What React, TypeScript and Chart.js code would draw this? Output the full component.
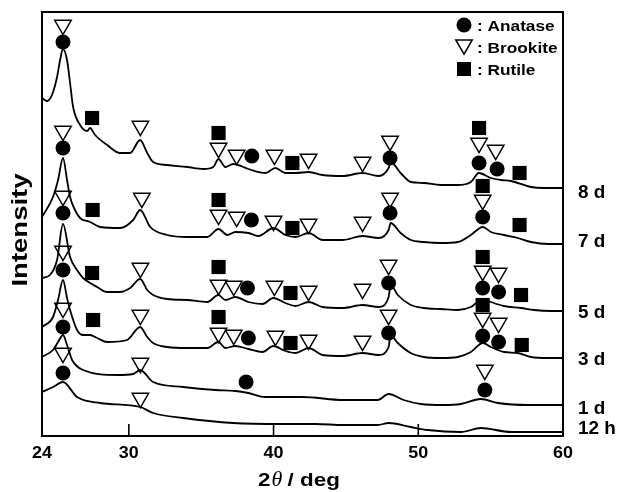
import React, { useEffect, useRef } from 'react';
import { Chart, registerables } from 'chart.js';

Chart.register(...registerables);

// ---- axis / labels ----
const xTicks = [24, 30, 40, 50, 60];
const sampleLabels = ['8 d', '7 d', '5 d', '3 d', '1 d', '12 h'];
const labelLevels = [245, 196, 125, 78, 29, 9];
const legendNames = ['Anatase', 'Brookite', 'Rutile'];

// ---- XRD patterns: [2theta, intensity (a.u., offset)] ----
const curve8d = [
  [24.0, 338], [24.35, 335], [24.69, 341], [25.04, 359], [25.25, 376], [25.45, 387], [25.73, 376],
  [25.94, 353], [26.15, 329], [26.63, 311], [27.12, 305], [27.32, 308], [27.67, 301], [28.5, 291],
  [29.4, 283], [30.09, 283], [30.78, 296], [31.27, 283], [31.68, 274], [32.65, 271], [34.04, 269],
  [35.15, 267], [35.84, 269], [36.19, 277], [36.67, 269], [37.22, 272], [38.26, 267], [39.44, 263],
  [40.13, 268], [40.82, 263], [41.52, 263], [42.42, 264], [43.39, 261], [44.77, 260], [46.15, 263],
  [47.26, 260], [47.95, 268], [48.09, 274], [48.78, 263], [49.48, 254], [50.38, 253], [51.55, 251],
  [52.73, 251], [53.63, 254], [54.19, 263], [55.02, 258], [55.71, 256], [56.4, 255], [57.79, 249],
  [58.69, 248], [60.0, 248],
];
const curve7d = [
  [24.0, 219], [24.76, 239], [25.11, 256], [25.45, 278], [25.73, 256], [25.94, 239], [26.28, 226],
  [26.63, 218], [27.32, 214], [28.02, 209], [29.4, 208], [30.3, 216], [30.78, 226], [31.48, 209],
  [32.65, 201], [34.04, 199], [35.42, 199], [36.19, 207], [36.81, 201], [37.36, 204], [38.26, 203],
  [38.95, 200], [40.0, 208], [40.82, 201], [41.52, 199], [42.42, 203], [43.39, 196], [44.77, 196],
  [46.15, 200], [47.26, 198], [47.95, 206], [48.09, 213], [48.78, 203], [49.48, 196], [50.38, 194],
  [51.55, 193], [52.73, 194], [53.63, 201], [54.46, 209], [55.02, 204], [55.92, 201], [56.88, 198],
  [57.79, 194], [58.96, 192], [60.0, 192],
];
const curve5d = [
  [24.0, 158], [24.55, 161], [25.04, 176], [25.45, 212], [25.94, 179], [26.42, 166], [26.84, 158],
  [27.32, 153], [27.81, 149], [28.5, 144], [29.4, 144], [30.09, 148], [30.78, 157], [31.27, 146],
  [31.68, 141], [32.65, 137], [34.04, 136], [35.42, 134], [36.19, 141], [36.67, 136], [37.36, 139],
  [38.26, 134], [39.23, 132], [39.99, 138], [40.82, 133], [41.52, 130], [42.42, 134], [43.39, 129],
  [44.77, 128], [46.15, 131], [47.26, 129], [47.95, 139], [48.09, 151], [48.58, 141], [49.48, 131],
  [50.38, 128], [51.55, 127], [52.73, 126], [53.63, 129], [54.46, 137], [55.02, 134], [55.92, 130],
  [57.09, 128], [57.99, 126], [59.17, 125], [60.0, 125],
];
const curve3d = [
  [24.0, 109], [24.76, 119], [25.11, 136], [25.45, 156], [25.73, 138], [25.94, 126], [26.42, 106],
  [26.84, 101], [27.32, 101], [27.81, 98], [28.5, 94], [29.88, 96], [30.78, 109], [31.27, 99],
  [31.68, 93], [32.65, 89], [34.04, 88], [35.42, 88], [36.19, 94], [36.67, 88], [37.36, 90],
  [38.26, 87], [39.23, 84], [39.99, 90], [40.82, 85], [41.52, 83], [42.42, 88], [43.39, 81],
  [44.77, 80], [46.15, 83], [47.26, 81], [47.95, 89], [48.09, 101], [48.58, 93], [49.48, 83],
  [50.38, 79], [51.55, 78], [52.73, 79], [53.63, 84], [54.46, 93], [55.02, 89], [55.92, 84],
  [56.88, 83], [57.79, 79], [58.96, 78], [60.0, 78],
];
const curve1d = [
  [24.0, 79], [24.76, 86], [25.11, 94], [25.45, 101], [25.73, 91], [26.08, 76], [26.84, 66],
  [29.19, 61], [30.3, 62], [30.78, 66], [31.68, 54], [33.76, 49], [35.98, 46], [37.36, 45],
  [38.26, 43], [39.44, 39], [42.0, 39], [44.84, 36], [47.19, 36], [47.95, 42], [48.99, 36],
  [50.17, 32], [51.76, 31], [52.94, 32], [54.32, 37], [55.5, 33], [57.58, 31], [60.0, 31],
];
const curve12h = [
  [24.0, 44], [24.76, 49], [25.45, 54], [26.42, 39], [28.02, 33], [30.78, 29], [31.68, 23],
  [33.76, 18], [37.22, 13], [40.62, 12], [42.9, 12], [44.84, 11], [47.19, 11], [47.95, 13],
  [49.48, 9], [50.66, 6], [52.94, 4], [54.32, 8], [56.4, 4], [60.0, 4],
];
const curves = [curve8d, curve7d, curve5d, curve3d, curve1d, curve12h];

// ---- phase markers: [2theta, level] ----
const anatase8d = [[25.45, 394], [38.5, 280], [48.05, 278], [54.2, 273], [55.45, 267]];
const anatase7d = [[25.45, 288], [38.47, 216], [48.05, 223], [54.45, 219]];
const anatase5d = [[25.45, 223], [38.2, 148], [47.95, 153], [54.45, 148], [55.55, 144]];
const anatase3d = [[25.45, 166], [38.26, 98], [47.95, 103], [54.45, 100], [55.55, 94]];
const anatase1d = [[25.45, 109], [38.1, 54], [54.6, 46]];
const anatase12h = [[25.45, 63]];

const brookite8d = [[25.45, 411], [30.8, 310], [36.2, 288], [37.45, 281], [40.06, 281], [42.42, 277], [46.15, 274], [48.05, 295], [54.2, 293], [55.35, 286]];
const brookite7d = [[25.45, 305], [30.9, 238], [36.2, 221], [37.45, 219], [40.0, 215], [42.42, 212], [46.15, 214], [48.05, 238], [54.45, 236]];
const brookite5d = [[25.45, 240], [30.8, 168], [36.2, 151], [37.25, 150], [40.06, 150], [42.42, 145], [46.15, 147], [47.95, 171], [54.45, 165], [55.55, 163]];
const brookite3d = [[25.45, 185], [30.8, 121], [36.2, 103], [37.25, 101], [40.13, 100], [42.42, 96], [46.15, 95], [47.95, 121], [54.45, 118], [55.55, 113]];
const brookite1d = [[25.45, 128], [30.8, 73], [54.6, 66]];
const brookite12h = [[25.45, 83], [30.8, 38]];

const rutile8d = [[27.46, 318], [36.2, 303], [41.3, 273], [54.2, 308], [57.0, 263]];
const rutile7d = [[27.5, 226], [36.2, 236], [41.3, 208], [54.45, 250], [57.0, 211]];
const rutile5d = [[27.46, 163], [36.2, 169], [41.17, 143], [54.45, 179], [57.1, 141]];
const rutile3d = [[27.53, 116], [36.2, 119], [41.17, 93], [54.45, 131], [57.15, 91]];

const anataseAll = [...anatase8d, ...anatase7d, ...anatase5d, ...anatase3d, ...anatase1d, ...anatase12h];
const brookiteAll = [...brookite8d, ...brookite7d, ...brookite5d, ...brookite3d, ...brookite1d, ...brookite12h];
const rutileAll = [...rutile8d, ...rutile7d, ...rutile5d, ...rutile3d];

const toXY = (arr: number[][]) => arr.map(([x, y]) => ({ x, y }));

const SANS = '"Liberation Sans", Arial, Helvetica, sans-serif';

function drawText(ctx: CanvasRenderingContext2D, text: string, x: number, y: number, font: string, sx: number, align: CanvasTextAlign) {
  ctx.save();
  ctx.translate(x, y);
  ctx.scale(sx, 1);
  ctx.font = font;
  ctx.textAlign = align;
  ctx.textBaseline = 'alphabetic';
  ctx.fillStyle = '#000';
  ctx.fillText(text, 0, 0);
  ctx.restore();
}

const decorPlugin = {
  id: 'decor',
  afterDraw(chart: any) {
    const { ctx, chartArea: a, scales } = chart;
    const xs = scales.x;
    const ys = scales.y;
    ctx.save();
    // frame
    ctx.strokeStyle = '#000';
    ctx.lineWidth = 2;
    ctx.strokeRect(a.left, a.top, a.right - a.left, a.bottom - a.top);
    // inward ticks on bottom axis
    ctx.lineWidth = 1.6;
    xTicks.forEach((t) => {
      const px = xs.getPixelForValue(t);
      ctx.beginPath();
      ctx.moveTo(px, a.bottom);
      ctx.lineTo(px, a.bottom - 12);
      ctx.stroke();
    });
    // tick labels
    xTicks.forEach((t) => {
      drawText(ctx, String(t), xs.getPixelForValue(t), a.bottom + 22, `bold 16px ${SANS}`, 1.12, 'center');
    });
    // x title: 2θ / deg
    {
      const fBold = `bold 19px ${SANS}`;
      const fTheta = `italic 21px "Liberation Serif", "DejaVu Serif", serif`;
      const sx = 1.18;
      ctx.save();
      ctx.font = fBold;
      const w2 = ctx.measureText('2').width * sx;
      const wRest = ctx.measureText(' / deg').width * sx;
      ctx.font = fTheta;
      const wT = ctx.measureText('\u03B8').width * 1.05;
      ctx.restore();
      const total = w2 + wT + wRest;
      let x0 = 299 - total / 2;
      const base = a.bottom + 50;
      drawText(ctx, '2', x0, base, fBold, sx, 'left');
      x0 += w2 + 1;
      drawText(ctx, '\u03B8', x0, base, fTheta, 1.05, 'left');
      x0 += wT - 1;
      drawText(ctx, ' / deg', x0, base, fBold, sx, 'left');
    }
    // y title
    ctx.save();
    ctx.translate(27, (a.top + a.bottom) / 2 + 6);
    ctx.rotate(-Math.PI / 2);
    ctx.scale(1.25, 1);
    ctx.font = `bold 22px ${SANS}`;
    ctx.textAlign = 'center';
    ctx.textBaseline = 'alphabetic';
    ctx.fillStyle = '#000';
    ctx.fillText('Intensity', 0, 0);
    ctx.restore();
    // sample labels at right
    sampleLabels.forEach((s, i) => {
      drawText(ctx, s, a.right + 15, ys.getPixelForValue(labelLevels[i]) + 6.5, `bold 18px ${SANS}`, 1.05, 'left');
    });
    // legend
    const lx = a.right - 99;
    const ly = [a.top + 13, a.top + 35, a.top + 57];
    ctx.fillStyle = '#000';
    ctx.strokeStyle = '#000';
    ctx.beginPath();
    ctx.arc(lx, ly[0], 7.5, 0, Math.PI * 2);
    ctx.fill();
    {
      const r = 9.5;
      const cy = ly[1] - r / 4;
      ctx.beginPath();
      ctx.moveTo(lx, cy + r);
      ctx.lineTo(lx - r * Math.sin(Math.PI / 3), cy - r / 2);
      ctx.lineTo(lx + r * Math.sin(Math.PI / 3), cy - r / 2);
      ctx.closePath();
      ctx.lineWidth = 1.5;
      ctx.stroke();
    }
    ctx.fillRect(lx - 7, ly[2] - 7, 14, 14);
    legendNames.forEach((n, i) => {
      drawText(ctx, ': ' + n, lx + 13, ly[i] + 6, `bold 15px ${SANS}`, 1.15, 'left');
    });
    ctx.restore();
  },
};

export default function App() {
  const ref = useRef<HTMLCanvasElement | null>(null);
  useEffect(() => {
    if (!ref.current) return;
    const lineSets = curves.map((c) => ({
      type: 'line' as const,
      data: toXY(c),
      borderColor: '#000',
      borderWidth: 1.8,
      pointRadius: 0,
      fill: false,
      cubicInterpolationMode: 'monotone' as const,
      order: 1,
    }));
    const markerBase = { type: 'scatter' as const, showLine: false, order: 2 };
    const chart = new Chart(ref.current, {
      type: 'line',
      data: {
        datasets: [
          ...lineSets,
          {
            ...markerBase,
            data: toXY(anataseAll),
            pointStyle: 'circle',
            pointRadius: 7.5,
            backgroundColor: '#000',
            borderColor: '#000',
            borderWidth: 0,
          },
          {
            ...markerBase,
            data: toXY(brookiteAll),
            pointStyle: 'triangle',
            pointRotation: 180,
            pointRadius: 9.5,
            backgroundColor: 'rgba(0,0,0,0)',
            borderColor: '#000',
            borderWidth: 1.5,
          },
          {
            ...markerBase,
            data: toXY(rutileAll),
            pointStyle: 'rect',
            pointRadius: 10,
            backgroundColor: '#000',
            borderColor: '#000',
            borderWidth: 0,
          },
        ] as any,
      },
      options: {
        animation: false,
        responsive: false,
        devicePixelRatio: 1,
        events: [],
        layout: { padding: { left: 42, top: 12, right: 57, bottom: 56 } },
        plugins: { legend: { display: false }, tooltip: { enabled: false } },
        scales: {
          x: { type: 'linear', min: 24, max: 60, display: false },
          y: { type: 'linear', min: 0, max: 424, display: false },
        },
      },
      plugins: [decorPlugin],
    });
    return () => chart.destroy();
  }, []);
  return (
    <div style={{ position: 'absolute', left: 0, top: 0, width: 620, height: 492, background: '#fff' }}>
      <canvas ref={ref} width={620} height={492} style={{ width: 620, height: 492 }} />
    </div>
  );
}
